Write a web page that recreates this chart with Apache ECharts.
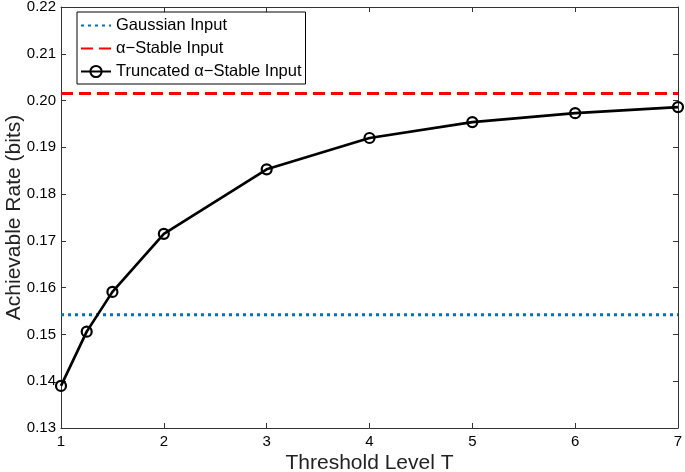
<!DOCTYPE html>
<html>
<head>
<meta charset="utf-8">
<script src="https://cdn.jsdelivr.net/npm/echarts@6/dist/echarts.min.js"></script>
<style>
html,body{margin:0;padding:0;background:#fff;}
#c{width:685px;height:472px;}
</style>
</head>
<body>
<div id="c"></div>
<script>
var thresholds = [1, 1.25, 1.5, 2, 3, 4, 5, 6, 7];
var truncatedRate = [0.1390, 0.1506, 0.1591, 0.1715, 0.1853, 0.1920, 0.1954, 0.1973, 0.1986];
var gaussianRate = 0.1542;
var stableRate = 0.2015;
var xRange = [1, 7];
var seriesNames = ['Gaussian Input', 'α\u2212Stable Input', 'Truncated α\u2212Stable Input'];

var font = 'Liberation Sans, Arial, Helvetica, sans-serif';
var axisColor = '#333';

var chart = echarts.init(document.getElementById('c'), null, {renderer: 'canvas'});

function pairs(xs, ys) { return xs.map(function (x, i) { return [x, ys[i]]; }); }

var baseX = {
  type: 'value', min: 1, max: 7, interval: 1,
  axisLine: {show: true, onZero: false, lineStyle: {color: axisColor, width: 1}},
  axisTick: {show: true, inside: true, length: 5, lineStyle: {color: axisColor}},
  splitLine: {show: false}
};
var baseY = {
  type: 'value', min: 0.13, max: 0.22, interval: 0.01,
  axisLine: {show: true, onZero: false, lineStyle: {color: axisColor, width: 1}},
  axisTick: {show: true, inside: true, length: 5, lineStyle: {color: axisColor}},
  splitLine: {show: false}
};

chart.setOption({
  animation: false,
  backgroundColor: '#fff',
  grid: {left: 61, right: 7, top: 7, bottom: 44, containLabel: false, outerBoundsMode: 'none'},
  legend: {
    orient: 'vertical',
    left: 77, top: 12,
    padding: [5, 4, 4, 3],
    itemGap: 6,
    itemWidth: 30,
    itemHeight: 14,
    borderColor: '#000', borderWidth: 1,
    backgroundColor: '#fff',
    textStyle: {fontFamily: font, fontSize: 16.5, color: '#000', lineHeight: 16},
    data: [
      {name: seriesNames[0], itemStyle: {opacity: 0}},
      {name: seriesNames[1], itemStyle: {opacity: 0}},
      {name: seriesNames[2]}
    ]
  },
  xAxis: [
    Object.assign({}, baseX, {
      position: 'bottom',
      axisLabel: {show: true, margin: 6, fontFamily: font, fontSize: 15, color: '#000'},
      name: 'Threshold Level T', nameLocation: 'middle', nameGap: 25, nameMoveOverlap: false,
      nameTextStyle: {fontFamily: font, fontSize: 21, color: '#222'}
    }),
    Object.assign({}, baseX, {position: 'top', axisLabel: {show: false}})
  ],
  yAxis: [
    Object.assign({}, baseY, {
      position: 'left',
      axisLabel: {show: true, margin: 5, fontFamily: font, fontSize: 15, color: '#000',
        formatter: function (v) { return v.toFixed(2); }},
      name: 'Achievable Rate (bits)', nameLocation: 'middle', nameGap: 36, nameMoveOverlap: false,
      nameTextStyle: {fontFamily: font, fontSize: 21, color: '#222'}
    }),
    Object.assign({}, baseY, {position: 'right', axisLabel: {show: false}})
  ],
  series: [
    {
      name: seriesNames[0], type: 'line', xAxisIndex: 0, yAxisIndex: 0,
      data: pairs(xRange, [gaussianRate, gaussianRate]),
      symbol: 'none', color: '#0072BD',
      lineStyle: {color: '#0072BD', width: 3, type: [3, 4]}
    },
    {
      name: seriesNames[1], type: 'line', xAxisIndex: 0, yAxisIndex: 0,
      data: pairs(xRange, [stableRate, stableRate]),
      symbol: 'none', color: '#FF0000',
      lineStyle: {color: '#FF0000', width: 3, type: [12, 6]}
    },
    {
      name: seriesNames[2], type: 'line', xAxisIndex: 0, yAxisIndex: 0,
      data: pairs(thresholds, truncatedRate),
      symbol: 'circle', symbolSize: 10, color: '#000',
      itemStyle: {color: 'rgba(0,0,0,0)', borderColor: '#000', borderWidth: 2.2},
      lineStyle: {color: '#000', width: 2.7},
      z: 5
    }
  ]
});
</script>
</body>
</html>
